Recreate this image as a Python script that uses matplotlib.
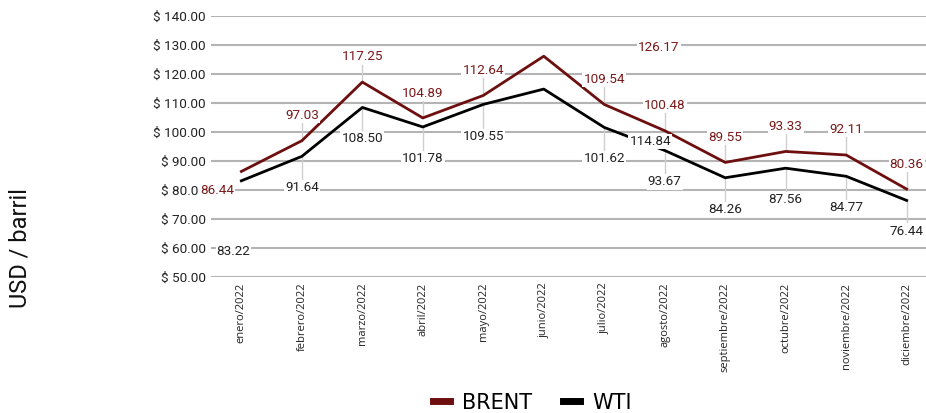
import matplotlib
matplotlib.use("Agg")
import matplotlib.pyplot as plt
from matplotlib.lines import Line2D

meses = ["enero/2022", "febrero/2022", "marzo/2022", "abril/2022", "mayo/2022",
         "junio/2022", "julio/2022", "agosto/2022", "septiembre/2022",
         "octubre/2022", "noviembre/2022", "diciembre/2022"]
brent = [86.44, 97.03, 117.25, 104.89, 112.64, 126.17, 109.54, 100.48, 89.55, 93.33, 92.11, 80.36]
wti = [83.22, 91.64, 108.50, 101.78, 109.55, 114.84, 101.62, 93.67, 84.26, 87.56, 84.77, 76.44]

# where the data labels sit in the original (x index, y value)
brent_lbl_x = [-0.4, 1, 2, 3, 4, 6.9, 6, 7, 8, 9, 10, 11]
brent_lbl_y = [80.0, 105.9, 125.9, 113.4, 121.4, 129.3, 118.3, 109.3, 98.3, 102.1, 101.0, 89.0]
wti_lbl_x = [-0.13, 1, 2, 3, 4, 6.76, 6, 7, 8, 9, 10, 11]
wti_lbl_y = [59.0, 81.0, 97.9, 91.0, 98.6, 96.9, 91.0, 82.8, 73.4, 76.9, 74.1, 65.9]

c_brent = "#6e0f0f"
c_wti = "#000000"

fig = plt.figure(figsize=(9.26, 4.13), dpi=100)
ax = fig.add_axes([0.228, 0.329, 0.772, 0.632])

x = list(range(len(meses)))
ax.plot(x, brent, color=c_brent, lw=2, zorder=4)
ax.plot(x, wti, color=c_wti, lw=2, zorder=4)

def etiquetas(vals, lx, ly, col):
    for i in range(len(vals)):
        if abs(lx[i] - i) < 0.05:
            ax.plot([i, i], [vals[i], ly[i]], color="#cfcfcf", lw=1, zorder=2)
        ax.text(lx[i], ly[i], "%.2f" % vals[i], color=col, fontsize=9.7,
                family="Roboto", ha="center", va="center", zorder=5,
                bbox=dict(boxstyle="square,pad=0.08", fc="white", ec="none"))

etiquetas(brent, brent_lbl_x, brent_lbl_y, "#7a1a1a")
etiquetas(wti, wti_lbl_x, wti_lbl_y, "#222222")

ax.set_ylim(50, 140)
ax.set_xlim(-0.5, 11.32)
ax.set_yticks(range(50, 141, 10))
ax.set_yticklabels(["$ %.2f" % v for v in range(50, 141, 10)], family="Roboto", fontsize=9.7, color="#222222")
ax.set_xticks(x)
ax.set_xticklabels(meses, rotation=90, family="Open Sans", fontsize=8, color="#222222")
ax.tick_params(length=0, pad=4)
ax.yaxis.grid(True, color="#b4b4b4", lw=1.5, zorder=0)
ax.set_axisbelow(True)
for s in ax.spines.values():
    s.set_visible(False)

fig.text(0.022, 0.40, "USD / barril", rotation=90, fontsize=17, family="Roboto",
         va="center", ha="center", color="#111111")

handles = [Line2D([], [], color=c_brent, lw=5), Line2D([], [], color=c_wti, lw=5)]
fig.legend(handles, ["BRENT", "WTI"], loc="center", bbox_to_anchor=(0.575, 0.025),
           ncol=2, frameon=False, handlelength=0.8, columnspacing=1.5, handletextpad=0.6,
           prop={"family": ["Liberation Sans Narrow", "DejaVu Sans"], "size": 15})

fig.savefig("out.png", dpi=100)
